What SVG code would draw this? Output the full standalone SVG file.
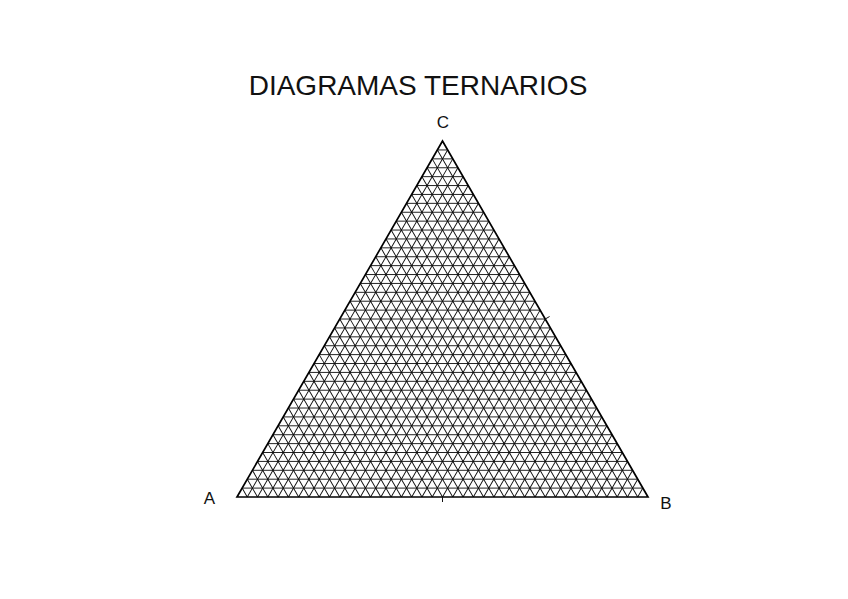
<svg xmlns="http://www.w3.org/2000/svg" xmlns:xlink="http://www.w3.org/1999/xlink" width="848" height="599" viewBox="0 0 848 599">
<style>
text{font-family:"Liberation Sans",Arial,sans-serif;fill:#111}
.title{font-size:28px}
.lbl{font-size:17px}
.grid line{stroke:#0a0a0a;stroke-width:0.9}
.frame{fill:none;stroke:#000;stroke-width:1.7;stroke-linejoin:miter}
.tick{stroke:#111;stroke-width:1}
</style>
<defs>
<g id="h" class="grid">
<line x1="242.14" y1="488.10" x2="642.86" y2="488.10"/>
<line x1="247.27" y1="479.20" x2="637.73" y2="479.20"/>
<line x1="252.41" y1="470.30" x2="632.59" y2="470.30"/>
<line x1="257.55" y1="461.41" x2="627.45" y2="461.41"/>
<line x1="262.69" y1="452.51" x2="622.31" y2="452.51"/>
<line x1="267.82" y1="443.61" x2="617.18" y2="443.61"/>
<line x1="272.96" y1="434.71" x2="612.04" y2="434.71"/>
<line x1="278.10" y1="425.81" x2="606.90" y2="425.81"/>
<line x1="283.24" y1="416.91" x2="601.76" y2="416.91"/>
<line x1="288.37" y1="408.02" x2="596.63" y2="408.02"/>
<line x1="293.51" y1="399.12" x2="591.49" y2="399.12"/>
<line x1="298.65" y1="390.22" x2="586.35" y2="390.22"/>
<line x1="303.79" y1="381.32" x2="581.21" y2="381.32"/>
<line x1="308.92" y1="372.42" x2="576.08" y2="372.42"/>
<line x1="314.06" y1="363.52" x2="570.94" y2="363.52"/>
<line x1="319.20" y1="354.62" x2="565.80" y2="354.62"/>
<line x1="324.34" y1="345.73" x2="560.66" y2="345.73"/>
<line x1="329.47" y1="336.83" x2="555.53" y2="336.83"/>
<line x1="334.61" y1="327.93" x2="550.39" y2="327.93"/>
<line x1="339.75" y1="319.03" x2="545.25" y2="319.03"/>
<line x1="344.89" y1="310.13" x2="540.11" y2="310.13"/>
<line x1="350.02" y1="301.23" x2="534.98" y2="301.23"/>
<line x1="355.16" y1="292.33" x2="529.84" y2="292.33"/>
<line x1="360.30" y1="283.44" x2="524.70" y2="283.44"/>
<line x1="365.44" y1="274.54" x2="519.56" y2="274.54"/>
<line x1="370.57" y1="265.64" x2="514.43" y2="265.64"/>
<line x1="375.71" y1="256.74" x2="509.29" y2="256.74"/>
<line x1="380.85" y1="247.84" x2="504.15" y2="247.84"/>
<line x1="385.99" y1="238.94" x2="499.01" y2="238.94"/>
<line x1="391.12" y1="230.05" x2="493.88" y2="230.05"/>
<line x1="396.26" y1="221.15" x2="488.74" y2="221.15"/>
<line x1="401.40" y1="212.25" x2="483.60" y2="212.25"/>
<line x1="406.54" y1="203.35" x2="478.46" y2="203.35"/>
<line x1="411.67" y1="194.45" x2="473.33" y2="194.45"/>
<line x1="416.81" y1="185.55" x2="468.19" y2="185.55"/>
<line x1="421.95" y1="176.65" x2="463.05" y2="176.65"/>
<line x1="427.09" y1="167.76" x2="457.91" y2="167.76"/>
<line x1="432.22" y1="158.86" x2="452.78" y2="158.86"/>
<line x1="437.36" y1="149.96" x2="447.64" y2="149.96"/>
</g>
</defs>
<g id="title"><text class="title" x="418" y="95" text-anchor="middle">DIAGRAMAS TERNARIOS</text></g>
<g id="ternary-grid">
<use xlink:href="#h" href="#h"/>
<use xlink:href="#h" href="#h" transform="rotate(120 442.5 378.353)"/>
<use xlink:href="#h" href="#h" transform="rotate(240 442.5 378.353)"/>
<polygon class="frame" points="237,497 648,497 442.5,141.06"/>
<line class="tick" x1="442.5" y1="497" x2="442.5" y2="502"/>
<line class="tick" x1="545.25" y1="319.03" x2="549.6" y2="316.5"/>
</g>
<g id="vertex-A"><text class="lbl" x="209.5" y="504" text-anchor="middle">A</text></g>
<g id="vertex-B"><text class="lbl" x="666" y="509" text-anchor="middle">B</text></g>
<g id="vertex-C"><text class="lbl" x="443" y="128" text-anchor="middle">C</text></g>
</svg>
